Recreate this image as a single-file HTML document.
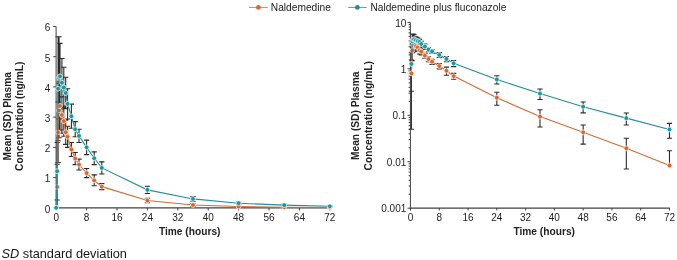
<!DOCTYPE html>
<html><head><meta charset="utf-8"><style>
html,body{margin:0;padding:0;background:#fff;width:677px;height:260px;overflow:hidden;}
svg{display:block;will-change:transform;filter:blur(0.3px);font-family:"Liberation Sans",sans-serif;}
</style></head><body>
<svg width="677" height="260" viewBox="0 0 677 260" font-family="Liberation Sans, sans-serif"><rect width="677" height="260" fill="#fff"/><line x1="249" y1="7.4" x2="267.8" y2="7.4" stroke="#bf7a52" stroke-width="0.9"/><circle cx="258.4" cy="7.4" r="2.35" fill="#e0652a"/><text x="270.8" y="11.3" font-size="10.2" fill="#222222">Naldemedine</text><line x1="348.2" y1="7.4" x2="366.7" y2="7.4" stroke="#4a8d90" stroke-width="0.9"/><circle cx="357.4" cy="7.4" r="2.35" fill="#17938f"/><text x="370.4" y="11.3" font-size="10.2" fill="#222222">Naldemedine plus fluconazole</text><g stroke="#404040" stroke-width="1" fill="none"><line x1="56.1" y1="26.5" x2="56.1" y2="208.5"/><line x1="55.5" y1="207.8" x2="330" y2="207.8" stroke-width="1.3"/><line x1="53.2" y1="207.80" x2="56.1" y2="207.80"/><line x1="53.2" y1="177.58" x2="56.1" y2="177.58"/><line x1="53.2" y1="147.36" x2="56.1" y2="147.36"/><line x1="53.2" y1="117.14" x2="56.1" y2="117.14"/><line x1="53.2" y1="86.92" x2="56.1" y2="86.92"/><line x1="53.2" y1="56.70" x2="56.1" y2="56.70"/><line x1="53.2" y1="26.48" x2="56.1" y2="26.48"/><line x1="56.20" y1="208" x2="56.20" y2="210.5"/><line x1="86.60" y1="208" x2="86.60" y2="210.5"/><line x1="117.00" y1="208" x2="117.00" y2="210.5"/><line x1="147.40" y1="208" x2="147.40" y2="210.5"/><line x1="177.80" y1="208" x2="177.80" y2="210.5"/><line x1="208.20" y1="208" x2="208.20" y2="210.5"/><line x1="238.60" y1="208" x2="238.60" y2="210.5"/><line x1="269.00" y1="208" x2="269.00" y2="210.5"/><line x1="299.40" y1="208" x2="299.40" y2="210.5"/><line x1="329.80" y1="208" x2="329.80" y2="210.5"/></g><g font-size="10" fill="#222222" text-anchor="end"><text x="50.3" y="212.60">0</text><text x="50.3" y="182.38">1</text><text x="50.3" y="152.16">2</text><text x="50.3" y="121.94">3</text><text x="50.3" y="91.72">4</text><text x="50.3" y="61.50">5</text><text x="50.3" y="31.28">6</text></g><g font-size="10" fill="#222222" text-anchor="middle"><text x="56.20" y="220.7">0</text><text x="86.60" y="220.7">8</text><text x="117.00" y="220.7">16</text><text x="147.40" y="220.7">24</text><text x="177.80" y="220.7">32</text><text x="208.20" y="220.7">40</text><text x="238.60" y="220.7">48</text><text x="269.00" y="220.7">56</text><text x="299.40" y="220.7">64</text><text x="329.80" y="220.7">72</text></g><text x="189.7" y="235" font-size="10.2" font-weight="bold" fill="#222222" text-anchor="middle">Time (hours)</text><g font-size="10.2" font-weight="bold" fill="#222222" text-anchor="middle" transform="translate(0,116.3) rotate(-90)"><text x="0" y="11">Mean (SD) Plasma</text><text x="0" y="23.3">Concentration (ng/mL)</text></g><path d="M57.15 164.28V207.80M58.10 102.03V162.47M59.05 83.29V137.69M60.00 81.78V130.13M61.90 96.89V133.16M63.80 105.96V136.18M65.70 120.16V144.34M67.60 126.21V147.36M71.40 142.52V156.43M75.20 152.50V164.59M79.00 159.15V170.03M86.60 168.51V177.58M94.20 174.86V185.74M101.80 183.62V189.67M147.40 198.28V202.81M193.00 203.81V206.11M238.60 205.93V207.07M284.20 206.83V207.59M329.80 207.28V207.80M57.15 142.52V199.94M58.10 36.75V140.71M59.05 36.75V118.95M60.00 43.40V109.28M61.90 58.51V106.87M63.80 67.28V107.77M65.70 77.25V108.68M67.60 88.73V118.95M71.40 104.15V128.32M75.20 121.67V136.78M79.00 129.23V142.52M86.60 140.11V154.61M94.20 151.89V164.59M101.80 161.87V173.95M147.40 186.22V193.48M193.00 196.65V201.18M238.60 201.97V204.39M284.20 204.42V205.93M329.80 205.78V206.83" stroke="#2b2b2b" stroke-width="1.1" fill="none"/><path d="M54.55 164.28H59.75M55.50 102.03H60.70M55.50 162.47H60.70M56.45 83.29H61.65M56.45 137.69H61.65M57.40 81.78H62.60M57.40 130.13H62.60M59.30 96.89H64.50M59.30 133.16H64.50M61.20 105.96H66.40M61.20 136.18H66.40M63.10 120.16H68.30M63.10 144.34H68.30M65.00 126.21H70.20M65.00 147.36H70.20M68.80 142.52H74.00M68.80 156.43H74.00M72.60 152.50H77.80M72.60 164.59H77.80M76.40 159.15H81.60M76.40 170.03H81.60M84.00 168.51H89.20M84.00 177.58H89.20M91.60 174.86H96.80M91.60 185.74H96.80M99.20 183.62H104.40M99.20 189.67H104.40M144.80 198.28H150.00M144.80 202.81H150.00M190.40 203.81H195.60M190.40 206.11H195.60M236.00 205.93H241.20M236.00 207.07H241.20M281.60 206.83H286.80M281.60 207.59H286.80M327.20 207.28H332.40M54.55 142.52H59.75M54.55 199.94H59.75M55.50 36.75H60.70M55.50 140.71H60.70M56.45 36.75H61.65M56.45 118.95H61.65M57.40 43.40H62.60M57.40 109.28H62.60M59.30 58.51H64.50M59.30 106.87H64.50M61.20 67.28H66.40M61.20 107.77H66.40M63.10 77.25H68.30M63.10 108.68H68.30M65.00 88.73H70.20M65.00 118.95H70.20M68.80 104.15H74.00M68.80 128.32H74.00M72.60 121.67H77.80M72.60 136.78H77.80M76.40 129.23H81.60M76.40 142.52H81.60M84.00 140.11H89.20M84.00 154.61H89.20M91.60 151.89H96.80M91.60 164.59H96.80M99.20 161.87H104.40M99.20 173.95H104.40M144.80 186.22H150.00M144.80 193.48H150.00M190.40 196.65H195.60M190.40 201.18H195.60M236.00 201.97H241.20M236.00 204.39H241.20M281.60 204.42H286.80M281.60 205.93H286.80M327.20 205.78H332.40M327.20 206.83H332.40" stroke="#2b2b2b" stroke-width="1.1" fill="none"/><polyline points="56.20,207.80 57.15,186.95 58.10,132.25 59.05,110.49 60.00,105.96 61.90,115.02 63.80,121.07 65.70,132.25 67.60,136.78 71.40,149.48 75.20,158.54 79.00,164.59 86.60,173.05 94.20,180.30 101.80,186.65 147.40,200.55 193.00,204.96 238.60,206.50 284.20,207.21 329.80,207.55" fill="none" stroke="#cf6b38" stroke-width="1.1"/><circle cx="56.20" cy="207.80" r="2.42" fill="#e2632a" stroke="#fff" stroke-width="0.7"/><circle cx="57.15" cy="186.95" r="2.42" fill="#e2632a" stroke="#fff" stroke-width="0.7"/><circle cx="58.10" cy="132.25" r="2.42" fill="#e2632a" stroke="#fff" stroke-width="0.7"/><circle cx="59.05" cy="110.49" r="2.42" fill="#e2632a" stroke="#fff" stroke-width="0.7"/><circle cx="60.00" cy="105.96" r="2.42" fill="#e2632a" stroke="#fff" stroke-width="0.7"/><circle cx="61.90" cy="115.02" r="2.42" fill="#e2632a" stroke="#fff" stroke-width="0.7"/><circle cx="63.80" cy="121.07" r="2.42" fill="#e2632a" stroke="#fff" stroke-width="0.7"/><circle cx="65.70" cy="132.25" r="2.42" fill="#e2632a" stroke="#fff" stroke-width="0.7"/><circle cx="67.60" cy="136.78" r="2.42" fill="#e2632a" stroke="#fff" stroke-width="0.7"/><circle cx="71.40" cy="149.48" r="2.42" fill="#e2632a" stroke="#fff" stroke-width="0.7"/><circle cx="75.20" cy="158.54" r="2.42" fill="#e2632a" stroke="#fff" stroke-width="0.7"/><circle cx="79.00" cy="164.59" r="2.42" fill="#e2632a" stroke="#fff" stroke-width="0.7"/><circle cx="86.60" cy="173.05" r="2.42" fill="#e2632a" stroke="#fff" stroke-width="0.7"/><circle cx="94.20" cy="180.30" r="2.42" fill="#e2632a" stroke="#fff" stroke-width="0.7"/><circle cx="101.80" cy="186.65" r="2.42" fill="#e2632a" stroke="#fff" stroke-width="0.7"/><circle cx="147.40" cy="200.55" r="2.42" fill="#e2632a" stroke="#fff" stroke-width="0.7"/><circle cx="193.00" cy="204.96" r="2.42" fill="#e2632a" stroke="#fff" stroke-width="0.7"/><circle cx="238.60" cy="206.50" r="2.42" fill="#e2632a" stroke="#fff" stroke-width="0.7"/><circle cx="284.20" cy="207.21" r="2.42" fill="#e2632a" stroke="#fff" stroke-width="0.7"/><circle cx="329.80" cy="207.55" r="2.42" fill="#e2632a" stroke="#fff" stroke-width="0.7"/><polyline points="56.20,207.80 57.15,171.23 58.10,88.73 59.05,77.85 60.00,76.34 61.90,82.69 63.80,87.52 65.70,92.96 67.60,103.84 71.40,116.23 75.20,129.23 79.00,135.88 86.60,147.36 94.20,158.24 101.80,167.91 147.40,189.85 193.00,198.92 238.60,203.18 284.20,205.17 329.80,206.30" fill="none" stroke="#218f98" stroke-width="1.1"/><circle cx="56.20" cy="207.80" r="2.42" fill="#18989f" stroke="#fff" stroke-width="0.7"/><circle cx="57.15" cy="171.23" r="2.42" fill="#18989f" stroke="#fff" stroke-width="0.7"/><circle cx="58.10" cy="88.73" r="2.42" fill="#18989f" stroke="#fff" stroke-width="0.7"/><circle cx="59.05" cy="77.85" r="2.42" fill="#18989f" stroke="#fff" stroke-width="0.7"/><circle cx="60.00" cy="76.34" r="2.42" fill="#18989f" stroke="#fff" stroke-width="0.7"/><circle cx="61.90" cy="82.69" r="2.42" fill="#18989f" stroke="#fff" stroke-width="0.7"/><circle cx="63.80" cy="87.52" r="2.42" fill="#18989f" stroke="#fff" stroke-width="0.7"/><circle cx="65.70" cy="92.96" r="2.42" fill="#18989f" stroke="#fff" stroke-width="0.7"/><circle cx="67.60" cy="103.84" r="2.42" fill="#18989f" stroke="#fff" stroke-width="0.7"/><circle cx="71.40" cy="116.23" r="2.42" fill="#18989f" stroke="#fff" stroke-width="0.7"/><circle cx="75.20" cy="129.23" r="2.42" fill="#18989f" stroke="#fff" stroke-width="0.7"/><circle cx="79.00" cy="135.88" r="2.42" fill="#18989f" stroke="#fff" stroke-width="0.7"/><circle cx="86.60" cy="147.36" r="2.42" fill="#18989f" stroke="#fff" stroke-width="0.7"/><circle cx="94.20" cy="158.24" r="2.42" fill="#18989f" stroke="#fff" stroke-width="0.7"/><circle cx="101.80" cy="167.91" r="2.42" fill="#18989f" stroke="#fff" stroke-width="0.7"/><circle cx="147.40" cy="189.85" r="2.42" fill="#18989f" stroke="#fff" stroke-width="0.7"/><circle cx="193.00" cy="198.92" r="2.42" fill="#18989f" stroke="#fff" stroke-width="0.7"/><circle cx="238.60" cy="203.18" r="2.42" fill="#18989f" stroke="#fff" stroke-width="0.7"/><circle cx="284.20" cy="205.17" r="2.42" fill="#18989f" stroke="#fff" stroke-width="0.7"/><circle cx="329.80" cy="206.30" r="2.42" fill="#18989f" stroke="#fff" stroke-width="0.7"/><g stroke="#404040" stroke-width="1" fill="none"><line x1="410.4" y1="22.47" x2="410.4" y2="210.3"/><line x1="409.8" y1="208.2" x2="669.8" y2="208.2" stroke-width="1.2"/><line x1="407.5" y1="208.19" x2="410.4" y2="208.19"/><line x1="408.6" y1="194.21" x2="410.4" y2="194.21"/><line x1="408.6" y1="186.04" x2="410.4" y2="186.04"/><line x1="408.6" y1="180.24" x2="410.4" y2="180.24"/><line x1="408.6" y1="175.74" x2="410.4" y2="175.74"/><line x1="408.6" y1="172.06" x2="410.4" y2="172.06"/><line x1="408.6" y1="168.95" x2="410.4" y2="168.95"/><line x1="408.6" y1="166.26" x2="410.4" y2="166.26"/><line x1="408.6" y1="163.88" x2="410.4" y2="163.88"/><line x1="407.5" y1="161.76" x2="410.4" y2="161.76"/><line x1="408.6" y1="147.78" x2="410.4" y2="147.78"/><line x1="408.6" y1="139.61" x2="410.4" y2="139.61"/><line x1="408.6" y1="133.81" x2="410.4" y2="133.81"/><line x1="408.6" y1="129.31" x2="410.4" y2="129.31"/><line x1="408.6" y1="125.63" x2="410.4" y2="125.63"/><line x1="408.6" y1="122.52" x2="410.4" y2="122.52"/><line x1="408.6" y1="119.83" x2="410.4" y2="119.83"/><line x1="408.6" y1="117.45" x2="410.4" y2="117.45"/><line x1="407.5" y1="115.33" x2="410.4" y2="115.33"/><line x1="408.6" y1="101.35" x2="410.4" y2="101.35"/><line x1="408.6" y1="93.18" x2="410.4" y2="93.18"/><line x1="408.6" y1="87.38" x2="410.4" y2="87.38"/><line x1="408.6" y1="82.88" x2="410.4" y2="82.88"/><line x1="408.6" y1="79.20" x2="410.4" y2="79.20"/><line x1="408.6" y1="76.09" x2="410.4" y2="76.09"/><line x1="408.6" y1="73.40" x2="410.4" y2="73.40"/><line x1="408.6" y1="71.02" x2="410.4" y2="71.02"/><line x1="407.5" y1="68.90" x2="410.4" y2="68.90"/><line x1="408.6" y1="54.92" x2="410.4" y2="54.92"/><line x1="408.6" y1="46.75" x2="410.4" y2="46.75"/><line x1="408.6" y1="40.95" x2="410.4" y2="40.95"/><line x1="408.6" y1="36.45" x2="410.4" y2="36.45"/><line x1="408.6" y1="32.77" x2="410.4" y2="32.77"/><line x1="408.6" y1="29.66" x2="410.4" y2="29.66"/><line x1="408.6" y1="26.97" x2="410.4" y2="26.97"/><line x1="408.6" y1="24.59" x2="410.4" y2="24.59"/><line x1="407.5" y1="22.47" x2="410.4" y2="22.47"/><line x1="410.50" y1="208" x2="410.50" y2="210.5"/><line x1="439.28" y1="208" x2="439.28" y2="210.5"/><line x1="468.05" y1="208" x2="468.05" y2="210.5"/><line x1="496.83" y1="208" x2="496.83" y2="210.5"/><line x1="525.60" y1="208" x2="525.60" y2="210.5"/><line x1="554.38" y1="208" x2="554.38" y2="210.5"/><line x1="583.16" y1="208" x2="583.16" y2="210.5"/><line x1="611.93" y1="208" x2="611.93" y2="210.5"/><line x1="640.71" y1="208" x2="640.71" y2="210.5"/><line x1="669.48" y1="208" x2="669.48" y2="210.5"/></g><g font-size="10" fill="#222222" text-anchor="end"><text x="406.3" y="212.29">0.001</text><text x="406.3" y="165.86">0.01</text><text x="406.3" y="119.43">0.1</text><text x="406.3" y="73.00">1</text><text x="406.3" y="26.57">10</text></g><g font-size="10" fill="#222222" text-anchor="middle"><text x="410.50" y="220.7">0</text><text x="439.28" y="220.7">8</text><text x="468.05" y="220.7">16</text><text x="496.83" y="220.7">24</text><text x="525.60" y="220.7">32</text><text x="554.38" y="220.7">40</text><text x="583.16" y="220.7">48</text><text x="611.93" y="220.7">56</text><text x="640.71" y="220.7">64</text><text x="669.48" y="220.7">72</text></g><text x="544.2" y="235" font-size="10.2" font-weight="bold" fill="#222222" text-anchor="middle">Time (hours)</text><g font-size="10.2" font-weight="bold" fill="#222222" text-anchor="middle" transform="translate(348.2,115.8) rotate(-90)"><text x="0" y="10.7">Mean (SD) Plasma</text><text x="0" y="23.7">Concentration (ng/mL)</text></g><path d="M411.40 60.06V129.31M412.30 43.64V60.72M413.20 40.35V51.93M414.10 40.11V49.87M415.90 42.68V50.67M417.69 44.40V51.50M419.49 47.43V53.94M421.29 48.87V54.92M424.89 53.37V58.20M428.49 56.71V61.69M432.08 59.30V64.40M439.28 63.61V68.90M446.47 67.16V75.25M453.66 73.40V79.20M496.83 92.19V105.23M539.99 109.73V127.02M583.16 124.97V144.11M626.32 138.31V168.95M669.48 150.71V165.52M411.40 52.73V91.26M412.30 33.95V52.82M413.20 33.95V47.15M414.10 34.75V45.07M415.90 36.69V44.58M417.69 37.91V44.76M419.49 39.39V44.95M421.29 41.25V47.15M424.89 44.05V49.40M428.49 47.78V51.67M432.08 49.63V53.37M439.28 52.64V57.50M446.47 56.50V61.69M453.66 60.46V66.61M496.83 75.69V83.95M539.99 89.00V99.52M583.16 102.07V112.87M626.32 113.04V124.97M669.48 123.41V138.31" stroke="#2b2b2b" stroke-width="1.1" fill="none"/><path d="M408.80 60.06H414.00M408.80 129.31H414.00M409.70 43.64H414.90M409.70 60.72H414.90M410.60 40.35H415.80M410.60 51.93H415.80M411.50 40.11H416.70M411.50 49.87H416.70M413.30 42.68H418.50M413.30 50.67H418.50M415.09 44.40H420.29M415.09 51.50H420.29M416.89 47.43H422.09M416.89 53.94H422.09M418.69 48.87H423.89M418.69 54.92H423.89M422.29 53.37H427.49M422.29 58.20H427.49M425.88 56.71H431.09M425.88 61.69H431.09M429.48 59.30H434.68M429.48 64.40H434.68M436.68 63.61H441.88M436.68 68.90H441.88M443.87 67.16H449.07M443.87 75.25H449.07M451.06 73.40H456.26M451.06 79.20H456.26M494.23 92.19H499.43M494.23 105.23H499.43M537.39 109.73H542.59M537.39 127.02H542.59M580.56 124.97H585.76M580.56 144.11H585.76M623.72 138.31H628.92M623.72 168.95H628.92M666.88 150.71H672.08M408.80 52.73H414.00M408.80 91.26H414.00M409.70 33.95H414.90M409.70 52.82H414.90M410.60 33.95H415.80M410.60 47.15H415.80M411.50 34.75H416.70M411.50 45.07H416.70M413.30 36.69H418.50M413.30 44.58H418.50M415.09 37.91H420.29M415.09 44.76H420.29M416.89 39.39H422.09M416.89 44.95H422.09M418.69 41.25H423.89M418.69 47.15H423.89M422.29 44.05H427.49M422.29 49.40H427.49M425.88 47.78H431.09M425.88 51.67H431.09M429.48 49.63H434.68M429.48 53.37H434.68M436.68 52.64H441.88M436.68 57.50H441.88M443.87 56.50H449.07M443.87 61.69H449.07M451.06 60.46H456.26M451.06 66.61H456.26M494.23 75.69H499.43M494.23 83.95H499.43M537.39 89.00H542.59M537.39 99.52H542.59M580.56 102.07H585.76M580.56 112.87H585.76M623.72 113.04H628.92M623.72 124.97H628.92M666.88 123.41H672.08M666.88 138.31H672.08" stroke="#2b2b2b" stroke-width="1.1" fill="none"/><polyline points="411.40,73.40 412.30,50.42 413.20,45.32 414.10,44.40 415.90,46.28 417.69,47.64 419.49,50.42 421.29,51.67 424.89,55.64 428.49,59.05 432.08,61.69 439.28,66.08 446.47,70.80 453.66,76.09 496.83,97.68 539.99,116.58 583.16,132.35 626.32,148.29 669.48,165.52" fill="none" stroke="#cf6b38" stroke-width="1.1"/><circle cx="411.40" cy="73.40" r="2.42" fill="#e2632a" stroke="#fff" stroke-width="0.7"/><circle cx="412.30" cy="50.42" r="2.42" fill="#e2632a" stroke="#fff" stroke-width="0.7"/><circle cx="413.20" cy="45.32" r="2.42" fill="#e2632a" stroke="#fff" stroke-width="0.7"/><circle cx="414.10" cy="44.40" r="2.42" fill="#e2632a" stroke="#fff" stroke-width="0.7"/><circle cx="415.90" cy="46.28" r="2.42" fill="#e2632a" stroke="#fff" stroke-width="0.7"/><circle cx="417.69" cy="47.64" r="2.42" fill="#e2632a" stroke="#fff" stroke-width="0.7"/><circle cx="419.49" cy="50.42" r="2.42" fill="#e2632a" stroke="#fff" stroke-width="0.7"/><circle cx="421.29" cy="51.67" r="2.42" fill="#e2632a" stroke="#fff" stroke-width="0.7"/><circle cx="424.89" cy="55.64" r="2.42" fill="#e2632a" stroke="#fff" stroke-width="0.7"/><circle cx="428.49" cy="59.05" r="2.42" fill="#e2632a" stroke="#fff" stroke-width="0.7"/><circle cx="432.08" cy="61.69" r="2.42" fill="#e2632a" stroke="#fff" stroke-width="0.7"/><circle cx="439.28" cy="66.08" r="2.42" fill="#e2632a" stroke="#fff" stroke-width="0.7"/><circle cx="446.47" cy="70.80" r="2.42" fill="#e2632a" stroke="#fff" stroke-width="0.7"/><circle cx="453.66" cy="76.09" r="2.42" fill="#e2632a" stroke="#fff" stroke-width="0.7"/><circle cx="496.83" cy="97.68" r="2.42" fill="#e2632a" stroke="#fff" stroke-width="0.7"/><circle cx="539.99" cy="116.58" r="2.42" fill="#e2632a" stroke="#fff" stroke-width="0.7"/><circle cx="583.16" cy="132.35" r="2.42" fill="#e2632a" stroke="#fff" stroke-width="0.7"/><circle cx="626.32" cy="148.29" r="2.42" fill="#e2632a" stroke="#fff" stroke-width="0.7"/><circle cx="669.48" cy="165.52" r="2.42" fill="#e2632a" stroke="#fff" stroke-width="0.7"/><polyline points="411.40,63.92 412.30,41.25 413.20,39.49 414.10,39.25 415.90,40.25 417.69,41.05 419.49,41.98 421.29,43.99 424.89,46.55 428.49,49.63 432.08,51.42 439.28,54.92 446.47,58.92 453.66,63.30 496.83,79.40 539.99,93.58 583.16,106.75 626.32,118.14 669.48,129.51" fill="none" stroke="#218f98" stroke-width="1.1"/><circle cx="411.40" cy="63.92" r="2.42" fill="#18989f" stroke="#fff" stroke-width="0.7"/><circle cx="412.30" cy="41.25" r="2.42" fill="#18989f" stroke="#fff" stroke-width="0.7"/><circle cx="413.20" cy="39.49" r="2.42" fill="#18989f" stroke="#fff" stroke-width="0.7"/><circle cx="414.10" cy="39.25" r="2.42" fill="#18989f" stroke="#fff" stroke-width="0.7"/><circle cx="415.90" cy="40.25" r="2.42" fill="#18989f" stroke="#fff" stroke-width="0.7"/><circle cx="417.69" cy="41.05" r="2.42" fill="#18989f" stroke="#fff" stroke-width="0.7"/><circle cx="419.49" cy="41.98" r="2.42" fill="#18989f" stroke="#fff" stroke-width="0.7"/><circle cx="421.29" cy="43.99" r="2.42" fill="#18989f" stroke="#fff" stroke-width="0.7"/><circle cx="424.89" cy="46.55" r="2.42" fill="#18989f" stroke="#fff" stroke-width="0.7"/><circle cx="428.49" cy="49.63" r="2.42" fill="#18989f" stroke="#fff" stroke-width="0.7"/><circle cx="432.08" cy="51.42" r="2.42" fill="#18989f" stroke="#fff" stroke-width="0.7"/><circle cx="439.28" cy="54.92" r="2.42" fill="#18989f" stroke="#fff" stroke-width="0.7"/><circle cx="446.47" cy="58.92" r="2.42" fill="#18989f" stroke="#fff" stroke-width="0.7"/><circle cx="453.66" cy="63.30" r="2.42" fill="#18989f" stroke="#fff" stroke-width="0.7"/><circle cx="496.83" cy="79.40" r="2.42" fill="#18989f" stroke="#fff" stroke-width="0.7"/><circle cx="539.99" cy="93.58" r="2.42" fill="#18989f" stroke="#fff" stroke-width="0.7"/><circle cx="583.16" cy="106.75" r="2.42" fill="#18989f" stroke="#fff" stroke-width="0.7"/><circle cx="626.32" cy="118.14" r="2.42" fill="#18989f" stroke="#fff" stroke-width="0.7"/><circle cx="669.48" cy="129.51" r="2.42" fill="#18989f" stroke="#fff" stroke-width="0.7"/><text x="1.5" y="258" font-size="12.75" fill="#161616"><tspan font-style="italic">SD</tspan> standard deviation</text></svg>
</body></html>
